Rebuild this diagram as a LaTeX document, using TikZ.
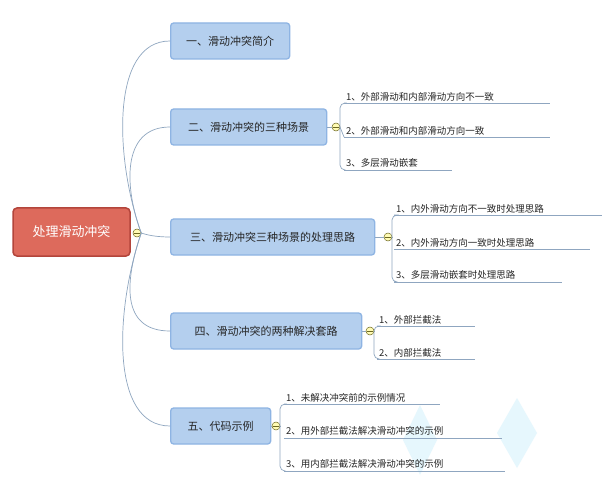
\documentclass[tikz,border=0pt]{standalone}
\usepackage{fontspec}
\newfontfamily\cjk{Noto Sans CJK SC}
\definecolor{boxf}{HTML}{B4CFEE}
\definecolor{boxd}{HTML}{8EB4E3}
\definecolor{rootf}{HTML}{DD6A5C}
\definecolor{rootd}{HTML}{B3453B}
\definecolor{lnc}{HTML}{8FA6C0}
\begin{document}
\begin{tikzpicture}[x=1pt,y=-1pt,
  l1/.style={draw=boxd,line width=1.3pt,fill=boxf,rounded corners=3pt,minimum height=36pt,anchor=west,inner xsep=8pt,font=\cjk\fontsize{11}{13}\selectfont,text=black!85},
  item/.style={anchor=south west,inner sep=2pt,font=\cjk\fontsize{9.5}{11}\selectfont,text=black!85},
  ln/.style={draw=lnc,line width=0.7pt},
  tog/.style={circle,draw=olive!70!black,fill=yellow!30!white,inner sep=0pt,minimum size=8pt,line width=0.5pt}]
\useasboundingbox (0,0) rectangle (611,492);
\fill[white] (0,0) rectangle (611,492);
\fill[cyan!10] (420,405) -- (437,440) -- (420,475) -- (403,440) -- cycle;
\fill[cyan!10] (517,398) -- (537,433) -- (517,468) -- (497,433) -- cycle;
\node[draw=rootd,line width=1.5pt,fill=rootf,rounded corners=4pt,minimum width=117pt,minimum height=48pt,text=white,font=\cjk\fontsize{13}{15}\selectfont] (root) at (71.5,232) {处理滑动冲突};
\node[tog] (t0) at (137,233) {}; \draw[olive!70!black] (134,233)--(140,233);
\node[l1,minimum width=119pt] (a) at (170,41) {一、滑动冲突简介};
\node[l1,minimum width=156pt] (b) at (170,127) {二、滑动冲突的三种场景};
\node[l1,minimum width=204pt] (c) at (170,237) {三、滑动冲突三种场景的处理思路};
\node[l1,minimum width=191pt] (d) at (170,331) {四、滑动冲突的两种解决套路};
\node[l1,minimum width=100pt] (e) at (170,426) {五、代码示例};
\draw[ln] (t0.east) .. controls (115,160) and (110,41) .. (a.west);
\draw[ln] (t0.east) .. controls (125,190) and (120,127) .. (b.west);
\draw[ln] (t0.east) .. controls (150,236) and (160,237) .. (c.west);
\draw[ln] (t0.east) .. controls (125,280) and (120,331) .. (d.west);
\draw[ln] (t0.east) .. controls (115,310) and (110,426) .. (e.west);
% group b
\node[tog] (tb) at (336,127) {}; \draw[olive!70!black] (333,127)--(339,127);
\node[item] (b1) at (344,103) {1、外部滑动和内部滑动方向不一致};
\node[item] (b2) at (344,137) {2、外部滑动和内部滑动方向一致};
\node[item] (b3) at (344,170) {3、多层滑动嵌套};
\draw[ln] (b1.south west)--(550,103); \draw[ln] (b2.south west)--(550,137); \draw[ln] (b3.south west)--(452,170);
\draw[ln,rounded corners=5pt] (b1.south west) -| (340,170) -- (b3.south west);
\draw[ln] (tb.east)--(340,127)--(b2.south west);
% group c
\node[tog] (tc) at (388,237) {}; \draw[olive!70!black] (385,237)--(391,237);
\node[item] (c1) at (394,215) {1、内外滑动方向不一致时处理思路};
\node[item] (c2) at (394,249) {2、内外滑动方向一致时处理思路};
\node[item] (c3) at (394,282) {3、多层滑动嵌套时处理思路};
\draw[ln] (c1.south west)--(602,215); \draw[ln] (c2.south west)--(590,249); \draw[ln] (c3.south west)--(562,282);
\draw[ln,rounded corners=5pt] (c1.south west) -| (392,282) -- (c3.south west);
\draw[ln] (tc.east)--(392,237);
% group d
\node[tog] (td) at (370,331) {}; \draw[olive!70!black] (367,331)--(373,331);
\node[item] (d1) at (377,326) {1、外部拦截法};
\node[item] (d2) at (377,359) {2、内部拦截法};
\draw[ln] (d1.south west)--(475,326); \draw[ln] (d2.south west)--(475,359);
\draw[ln,rounded corners=5pt] (d1.south west) -| (374,359) -- (d2.south west);
\draw[ln] (td.east)--(374,331);
% group e
\node[tog] (te) at (276,426) {}; \draw[olive!70!black] (273,426)--(279,426);
\node[item] (e1) at (284,404) {1、未解决冲突前的示例情况};
\node[item] (e2) at (284,438) {2、用外部拦截法解决滑动冲突的示例};
\node[item] (e3) at (284,471) {3、用内部拦截法解决滑动冲突的示例};
\draw[ln] (e1.south west)--(440,404); \draw[ln] (e2.south west)--(502,438); \draw[ln] (e3.south west)--(505,471);
\draw[ln,rounded corners=5pt] (e1.south west) -| (280,471) -- (e3.south west);
\draw[ln] (te.east)--(280,426);
\draw[ln] (e.east)--(te.west); \draw[ln] (d.east)--(td.west); \draw[ln] (c.east)--(tc.west); \draw[ln] (b.east)--(tb.west);
\end{tikzpicture}
\end{document}
